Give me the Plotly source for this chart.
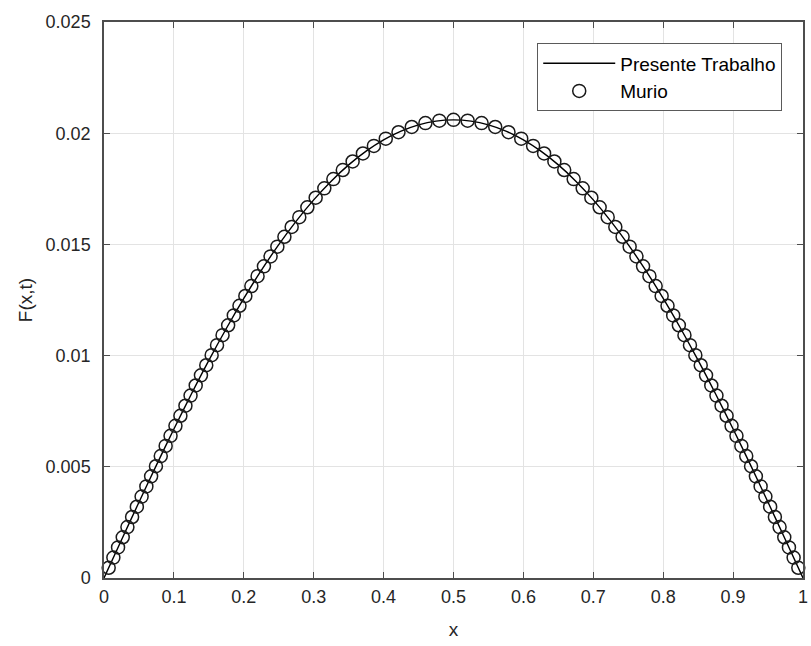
import plotly.graph_objects as go

# Presente Trabalho: solução F(x,t) amostrada em x
x_curve = [0.0, 0.025, 0.05, 0.075, 0.1, 0.125, 0.15, 0.175, 0.2, 0.225,
           0.25, 0.275, 0.3, 0.325, 0.35, 0.375, 0.4, 0.425, 0.45, 0.475,
           0.5, 0.525, 0.55, 0.575, 0.6, 0.625, 0.65, 0.675, 0.7, 0.725,
           0.75, 0.775, 0.8, 0.825, 0.85, 0.875, 0.9, 0.925, 0.95, 0.975, 1.0]
f_curve = [0.0, 0.001710, 0.003406, 0.005074, 0.006701, 0.008275, 0.009785,
           0.011219, 0.012570, 0.013829, 0.014991, 0.016049, 0.017001,
           0.017844, 0.018575, 0.019194, 0.019701, 0.020094, 0.020375,
           0.020544, 0.020600, 0.020544, 0.020375, 0.020094, 0.019701,
           0.019194, 0.018575, 0.017844, 0.017001, 0.016049, 0.014991,
           0.013829, 0.012570, 0.011219, 0.009785, 0.008275, 0.006701,
           0.005074, 0.003406, 0.001710, 0.0]

# Murio: valores de referência
x_murio = [0.0067, 0.0134, 0.0201, 0.0268, 0.0335, 0.0402, 0.0470, 0.0538,
           0.0606, 0.0674, 0.0743, 0.0812, 0.0882, 0.0952, 0.1022, 0.1093,
           0.1165, 0.1238, 0.1312, 0.1387, 0.1463, 0.1540, 0.1617, 0.1696,
           0.1776, 0.1857, 0.1938, 0.2022, 0.2108, 0.2197, 0.2288, 0.2383,
           0.2480, 0.2581, 0.2685, 0.2794, 0.2909, 0.3028, 0.3152, 0.3281,
           0.3416, 0.3557, 0.3704, 0.3861, 0.4031, 0.4213, 0.4403, 0.4598,
           0.4798, 0.5000,
           0.5202, 0.5402, 0.5597, 0.5787, 0.5969, 0.6139, 0.6296, 0.6443,
           0.6584, 0.6719, 0.6848, 0.6972, 0.7091, 0.7206, 0.7315, 0.7419,
           0.7520, 0.7617, 0.7712, 0.7803, 0.7892, 0.7978, 0.8062, 0.8143,
           0.8224, 0.8304, 0.8383, 0.8460, 0.8537, 0.8613, 0.8688, 0.8762,
           0.8835, 0.8907, 0.8978, 0.9048, 0.9118, 0.9188, 0.9257, 0.9326,
           0.9394, 0.9462, 0.9530, 0.9598, 0.9665, 0.9732, 0.9799, 0.9866,
           0.9933]
f_murio = [0.000459, 0.000918, 0.001376, 0.001832, 0.002289, 0.002743,
           0.003204, 0.003662, 0.004117, 0.004570, 0.005027, 0.005482,
           0.005939, 0.006392, 0.006842, 0.007294, 0.007747, 0.008202,
           0.008656, 0.009112, 0.009567, 0.010020, 0.010468, 0.010919,
           0.011364, 0.011807, 0.012241, 0.012682, 0.013127, 0.013571,
           0.014014, 0.014461, 0.014898, 0.015343, 0.015784, 0.016226,
           0.016670, 0.017099, 0.017522, 0.017938, 0.018343, 0.018728,
           0.019088, 0.019430, 0.019755, 0.020043, 0.020280, 0.020455,
           0.020563, 0.020600,
           0.020563, 0.020455, 0.020280, 0.020043, 0.019755, 0.019430,
           0.019088, 0.018728, 0.018343, 0.017938, 0.017522, 0.017099,
           0.016670, 0.016226, 0.015784, 0.015343, 0.014898, 0.014461,
           0.014014, 0.013571, 0.013127, 0.012682, 0.012241, 0.011807,
           0.011364, 0.010919, 0.010468, 0.010020, 0.009567, 0.009112,
           0.008656, 0.008202, 0.007747, 0.007294, 0.006842, 0.006392,
           0.005939, 0.005482, 0.005027, 0.004570, 0.004117, 0.003662,
           0.003204, 0.002743, 0.002289, 0.001832, 0.001376, 0.000918,
           0.000459]

x_tick_vals = [0, 0.1, 0.2, 0.3, 0.4, 0.5, 0.6, 0.7, 0.8, 0.9, 1]
x_tick_text = ["0", "0.1", "0.2", "0.3", "0.4", "0.5", "0.6", "0.7", "0.8", "0.9", "1"]
y_tick_vals = [0, 0.005, 0.01, 0.015, 0.02, 0.025]
y_tick_text = ["0", "0.005", "0.01", "0.015", "0.02", "0.025"]

FONT = "Liberation Sans, Arial, sans-serif"
AXIS_COLOR = "#4d4d4d"
TEXT_COLOR = "#262626"

fig = go.Figure()
fig.add_trace(go.Scatter(
    x=x_curve, y=f_curve, mode="lines", name="Presente Trabalho",
    line=dict(color="black", width=1.4, shape="spline", smoothing=0.8),
))
fig.add_trace(go.Scatter(
    x=x_murio, y=f_murio, mode="markers", name="Murio",
    marker=dict(symbol="circle-open", size=13, color="#1a1a1a",
                line=dict(width=1.5, color="#1a1a1a")),
    cliponaxis=False,
))

axis_common = dict(
    ticks="inside", ticklen=6, tickwidth=1, tickcolor=AXIS_COLOR,
    showline=True, linecolor=AXIS_COLOR, linewidth=1.5, mirror="allticks",
    showgrid=True, gridcolor="#e3e3e3", gridwidth=1, zeroline=False,
    tickfont=dict(family=FONT, size=18, color=TEXT_COLOR),
    ticklabeloverflow="allow",
)

fig.update_layout(
    width=811, height=646,
    margin=dict(l=104, r=3, t=22, b=68),
    paper_bgcolor="white", plot_bgcolor="white",
    font=dict(family=FONT, color=TEXT_COLOR),
    xaxis=dict(range=[0, 1], tickvals=x_tick_vals, ticktext=x_tick_text,
               ticklabelstandoff=2,
               title=dict(text="x", font=dict(family=FONT, size=19, color=TEXT_COLOR),
                          standoff=16),
               **axis_common),
    yaxis=dict(range=[0, 0.025], tickvals=y_tick_vals, ticktext=y_tick_text,
               ticklabelstandoff=8,
               title=dict(text="F(x,t)", font=dict(family=FONT, size=19, color=TEXT_COLOR),
                          standoff=8),
               **axis_common),
    legend=dict(x=0.970, y=0.962, xanchor="right", yanchor="top",
                bgcolor="white", bordercolor="#5a5a5a", borderwidth=1.2,
                font=dict(family=FONT, size=19, color="black"),
                itemwidth=72, tracegroupgap=0),
    showlegend=True,
)

fig.write_html("out.html")
